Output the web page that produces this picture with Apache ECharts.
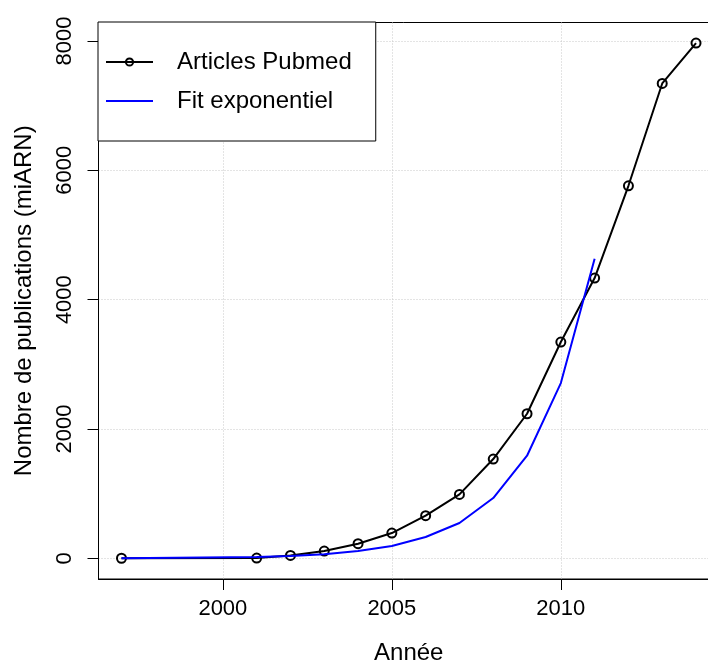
<!DOCTYPE html>
<html>
<head>
<meta charset="utf-8">
<script src="https://cdn.jsdelivr.net/npm/echarts@6/dist/echarts.min.js"></script>
<style>
html,body{margin:0;padding:0;background:#fff;}
#chart{width:708px;height:661px;}
</style>
</head>
<body>
<div id="chart"></div>
<script>
// Data
var years = [1997, 2001, 2002, 2003, 2004, 2005, 2006, 2007, 2008, 2009, 2010, 2011, 2012, 2013, 2014];
var pubmed = [2, 5, 46, 114, 227, 392, 660, 989, 1536, 2236, 3345, 4334, 5760, 7342, 7966];
var fitYears = [1997, 2001, 2002, 2003, 2004, 2005, 2006, 2007, 2008, 2009, 2010, 2011];
var fitValues = [3, 20, 36, 64, 115, 192, 330, 547, 933, 1587, 2710, 4632];
var xTicks = [2000, 2005, 2010];
var yTicks = [0, 2000, 4000, 6000, 8000];
var seriesNames = ['Articles Pubmed', 'Fit exponentiel'];
var xTitle = 'Année';
var yTitle = 'Nombre de publications (miARN)';

function pairs(xs, ys) { return xs.map(function (x, i) { return [x, ys[i]]; }); }

var FONT = '"Liberation Sans", Arial, Helvetica, sans-serif';
var chart = echarts.init(document.getElementById('chart'), null, {renderer: 'canvas'});
chart.setOption({
  animation: false,
  backgroundColor: '#ffffff',
  textStyle: {fontFamily: FONT},
  grid: {
    left: 98.5, top: 22.5, width: 620.5, height: 556.5,
    outerBoundsMode: 'none',
    containLabel: false,
    show: true, borderColor: '#000', borderWidth: 1, backgroundColor: 'transparent'
  },
  legend: {
    orient: 'vertical',
    left: 98, top: 22,
    data: [
      {name: seriesNames[0]},
      {name: seriesNames[1], icon: 'path://M0,0h47v2h-47z'}
    ],
    backgroundColor: '#fff',
    borderColor: '#000',
    borderWidth: 1,
    padding: [27, 24, 27, 7],
    itemWidth: 47,
    itemHeight: 9,
    itemGap: 13,
    textStyle: {fontSize: 24, color: '#000', fontFamily: FONT, lineHeight: 26, padding: [0, 0, 0, 19]}
  },
  xAxis: {
    type: 'value',
    min: 1996.32, max: 2014.68,
    name: xTitle,
    nameLocation: 'middle',
    nameGap: 62,
    nameTextStyle: {fontSize: 24, color: '#000', fontFamily: FONT},
    axisLine: {show: true, onZero: false, lineStyle: {color: '#000', width: 1}},
    axisTick: {show: true, inside: false, length: 11, customValues: xTicks, lineStyle: {color: '#000', width: 1}},
    axisLabel: {customValues: xTicks, fontSize: 22, color: '#000', margin: 19, fontFamily: FONT,
                formatter: function (v) { return String(v); }},
    splitLine: {show: true, lineStyle: {color: '#c8c8c8', type: [1, 2], width: 1}}
  },
  yAxis: {
    type: 'value',
    min: -318.6, max: 8284.6,
    name: yTitle,
    nameLocation: 'middle',
    nameRotate: 90,
    nameGap: 62,
    nameTextStyle: {fontSize: 24, color: '#000', fontFamily: FONT},
    axisLine: {show: true, onZero: false, lineStyle: {color: '#000', width: 1}},
    axisTick: {show: true, inside: false, length: 11, customValues: yTicks, lineStyle: {color: '#000', width: 1}},
    axisLabel: {customValues: yTicks, rotate: 90, fontSize: 22, color: '#000', margin: 23, fontFamily: FONT,
                formatter: function (v) { return String(v); }},
    splitLine: {show: true, lineStyle: {color: '#c8c8c8', type: [1, 2], width: 1}}
  },
  series: [
    {
      name: seriesNames[0],
      type: 'line',
      data: pairs(years, pubmed),
      symbol: 'circle',
      symbolSize: 9,
      showAllSymbol: true,
      itemStyle: {color: 'rgba(255,255,255,0)', borderColor: '#000', borderWidth: 2},
      lineStyle: {color: '#000', width: 2},
      z: 2
    },
    {
      name: seriesNames[1],
      type: 'line',
      data: pairs(fitYears, fitValues),
      symbol: 'none',
      itemStyle: {color: '#0000ff'},
      lineStyle: {color: '#0000ff', width: 2},
      z: 3
    }
  ]
});
</script>
</body>
</html>
